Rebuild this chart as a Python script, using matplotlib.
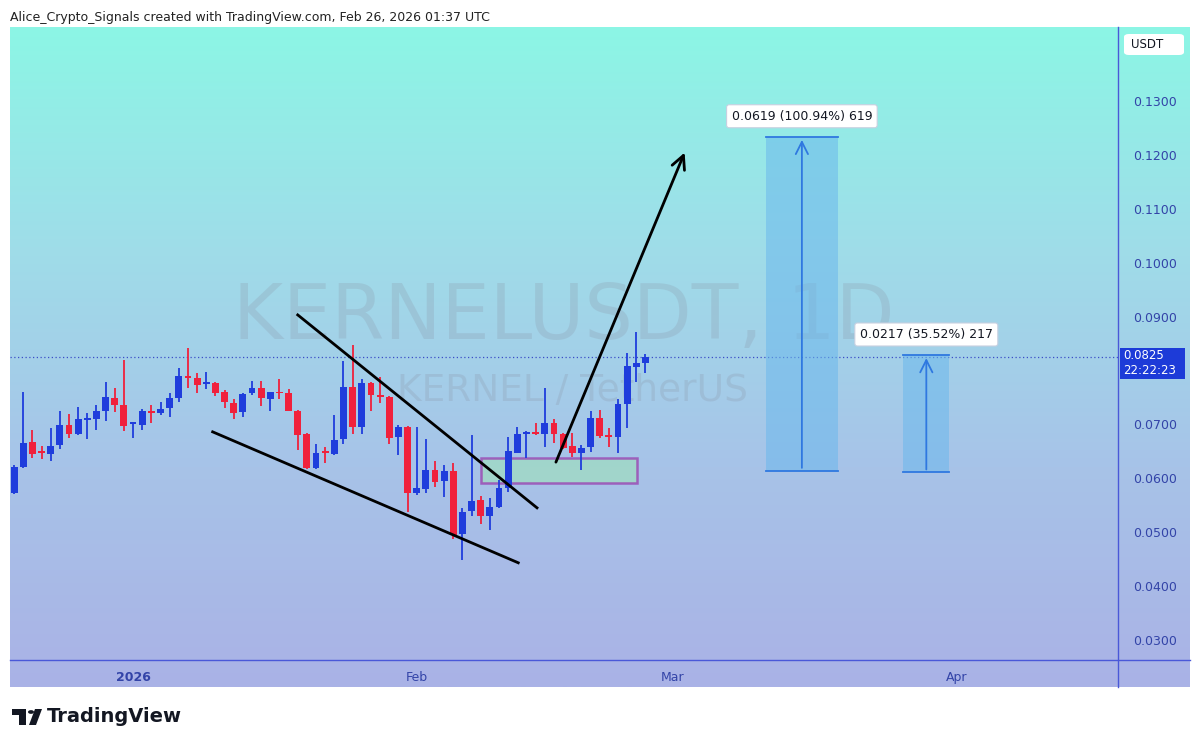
import numpy as np
import matplotlib.pyplot as plt
from matplotlib.patches import Rectangle, FancyBboxPatch, Polygon, Circle
from matplotlib.lines import Line2D
from matplotlib.colors import LinearSegmentedColormap

# KERNELUSDT daily candles, 19 Dec 2025 .. 26 Feb 2026
opens = [0.0573, 0.0621, 0.0667, 0.0649, 0.0645, 0.0662, 0.0699, 0.0682, 0.0708, 0.0710,
         0.0725, 0.0749, 0.0736, 0.0701, 0.0699, 0.0725, 0.0721, 0.0730, 0.0749, 0.0790,
         0.0786, 0.0775, 0.0777, 0.0760, 0.0740, 0.0723, 0.0758, 0.0768, 0.0747, 0.0760,
         0.0758, 0.0725, 0.0682, 0.0619, 0.0649, 0.0645, 0.0673, 0.0769, 0.0695, 0.0777,
         0.0755, 0.0751, 0.0677, 0.0695, 0.0573, 0.0580, 0.0615, 0.0595, 0.0614, 0.0497,
         0.0539, 0.0560, 0.0530, 0.0547, 0.0582, 0.0647, 0.0682, 0.0684, 0.0682, 0.0703,
         0.0682, 0.0660, 0.0647, 0.0658, 0.0712, 0.0680, 0.0677, 0.0738, 0.0806, 0.0814]
highs = [0.0625, 0.0760, 0.0690, 0.0660, 0.0693, 0.0725, 0.0719, 0.0732, 0.0721, 0.0736,
         0.0779, 0.0768, 0.0819, 0.0704, 0.0729, 0.0736, 0.0742, 0.0758, 0.0805, 0.0842,
         0.0795, 0.0797, 0.0779, 0.0764, 0.0747, 0.0758, 0.0781, 0.0781, 0.0760, 0.0784,
         0.0766, 0.0727, 0.0684, 0.0664, 0.0658, 0.0717, 0.0818, 0.0847, 0.0784, 0.0779,
         0.0788, 0.0753, 0.0699, 0.0697, 0.0695, 0.0673, 0.0632, 0.0625, 0.0628, 0.0545,
         0.0680, 0.0567, 0.0563, 0.0597, 0.0677, 0.0695, 0.0688, 0.0703, 0.0768, 0.0710,
         0.0684, 0.0684, 0.0662, 0.0725, 0.0727, 0.0693, 0.0747, 0.0832, 0.0871, 0.0831]
lows = [0.0571, 0.0619, 0.0638, 0.0636, 0.0632, 0.0654, 0.0675, 0.0680, 0.0673, 0.0690,
        0.0706, 0.0723, 0.0688, 0.0675, 0.0690, 0.0703, 0.0717, 0.0714, 0.0742, 0.0768,
        0.0758, 0.0766, 0.0753, 0.0730, 0.0710, 0.0714, 0.0755, 0.0734, 0.0725, 0.0747,
        0.0724, 0.0652, 0.0617, 0.0617, 0.0628, 0.0643, 0.0664, 0.0682, 0.0682, 0.0725,
        0.0740, 0.0664, 0.0643, 0.0537, 0.0569, 0.0573, 0.0584, 0.0565, 0.0487, 0.0448,
        0.0530, 0.0515, 0.0504, 0.0545, 0.0575, 0.0647, 0.0638, 0.0680, 0.0658, 0.0665,
        0.0654, 0.0640, 0.0615, 0.0649, 0.0675, 0.0658, 0.0647, 0.0693, 0.0779, 0.0795]
closes = [0.0621, 0.0665, 0.0645, 0.0647, 0.0660, 0.0699, 0.0682, 0.0710, 0.0712, 0.0725,
          0.0751, 0.0736, 0.0697, 0.0703, 0.0725, 0.0721, 0.0729, 0.0749, 0.0790, 0.0786,
          0.0773, 0.0777, 0.0758, 0.0742, 0.0721, 0.0756, 0.0768, 0.0749, 0.0760, 0.0758,
          0.0725, 0.0680, 0.0619, 0.0647, 0.0647, 0.0671, 0.0769, 0.0695, 0.0777, 0.0755,
          0.0751, 0.0675, 0.0695, 0.0573, 0.0582, 0.0615, 0.0593, 0.0614, 0.0495, 0.0537,
          0.0558, 0.0530, 0.0547, 0.0582, 0.0651, 0.0682, 0.0684, 0.0682, 0.0703, 0.0682,
          0.0656, 0.0647, 0.0656, 0.0712, 0.0678, 0.0677, 0.0738, 0.0808, 0.0814, 0.0825]
days = np.arange(-13, -13 + len(opens))  # days from 1 Jan 2026

last_price = 0.0825
# 0.0800 sits under the last-price tag, so it is not shown
price_ticks = [0.03, 0.04, 0.05, 0.06, 0.07, 0.09, 0.10, 0.11, 0.12, 0.13]
date_ticks = [0, 31, 59, 90]
date_labels = ["2026", "Feb", "Mar", "Apr"]

# drawings (day, price)
wedge_upper = ([18.0, 44.15], [0.0903, 0.0545])
wedge_lower = ([8.7, 42.1], [0.0686, 0.0443])
big_arrow = ((46.1, 0.0625), (60.4, 0.1209))
zone = (38.0, 55.1, 0.0591, 0.0638)
targets = [
    (69.2, 77.0, 0.0614, 0.1233, "0.0619 (100.94%) 619"),
    (84.2, 89.2, 0.0611, 0.0828, "0.0217 (35.52%) 217"),
]

W, H = 1200, 747
fig = plt.figure(figsize=(12, 7.47), dpi=100)
fig.patch.set_facecolor("white")

# gradient background
bg = fig.add_axes([10 / W, 1 - 687 / H, 1180 / W, 660 / H])
cmap = LinearSegmentedColormap.from_list("bg", ["#8cf6e5", "#9fdde9", "#a7c3e8", "#aab2e6"])
bg.imshow(np.linspace(0, 1, 256).reshape(-1, 1), aspect="auto", cmap=cmap,
          extent=[0, 1, 0, 1])
bg.set_axis_off()

ax = fig.add_axes([10 / W, 1 - 660 / H, 1108 / W, 633 / H])
ax.patch.set_alpha(0)
ax.set_xlim(-13.45, 107.65)
ax.set_ylim(0.02626, 0.14373)

blue = "#1f3ddc"
red = "#f0213c"
cols = [blue if c >= o else red for o, c in zip(opens, closes)]
ax.vlines(days, lows, highs, colors=cols, lw=1.3, zorder=3)
bottoms = [min(o, c) for o, c in zip(opens, closes)]
heights = [max(abs(c - o), 0.00028) for o, c in zip(opens, closes)]
ax.bar(days, heights, bottom=bottoms, width=0.75, color=cols, zorder=4)

# last price dotted line
ax.axhline(last_price, color="#3a4fc8", lw=0.9, ls=(0, (1, 2)), zorder=2)

# watermark
ax.text(0.4995, 0.54, "KERNELUSDT, 1D", transform=ax.transAxes, ha="center", va="center",
        fontsize=55, color="#8a95a8", alpha=0.25, zorder=1)
ax.text(0.508, 0.425, "KERNEL / TetherUS", transform=ax.transAxes, ha="center", va="center",
        fontsize=27, color="#8a95a8", alpha=0.25, zorder=1)

# falling wedge
ax.plot(*wedge_upper, color="black", lw=2, zorder=5)
ax.plot(*wedge_lower, color="black", lw=2, zorder=5)

# demand zone
x0, x1, y0, y1 = zone
ax.add_patch(Rectangle((x0, y0), x1 - x0, y1 - y0, facecolor="#9fdcc2", alpha=0.75,
                       edgecolor="#9a3cb0", lw=1.8, zorder=2))

# projection arrow
ax.annotate("", xy=big_arrow[1], xytext=big_arrow[0],
            arrowprops=dict(arrowstyle="->", color="black", lw=2, mutation_scale=24),
            zorder=6)

# targets
for tx0, tx1, ty0, ty1, label in targets:
    ax.add_patch(Rectangle((tx0, ty0), tx1 - tx0, ty1 - ty0, facecolor="#6bb8ec",
                           alpha=0.55, edgecolor="none", zorder=2))
    ax.plot([tx0, tx1], [ty0, ty0], color="#2f78e0", lw=1.3, zorder=3)
    ax.plot([tx0, tx1], [ty1, ty1], color="#2f78e0", lw=1.3, zorder=3)
    xc = (tx0 + tx1) / 2
    ax.annotate("", xy=(xc, ty1), xytext=(xc, ty0),
                arrowprops=dict(arrowstyle="->", color="#2f78e0", lw=1.3, mutation_scale=22),
                zorder=4)
    ax.annotate(label, xy=(xc, ty1), xytext=(0, 15), textcoords="offset points",
                ha="center", va="center", fontsize=9, color="#131722", zorder=7,
                bbox=dict(boxstyle="round,pad=0.4,rounding_size=0.2", fc="white",
                          ec="#c8d0e0", lw=0.8))

# axes
for s in ax.spines.values():
    s.set_visible(False)
ax.yaxis.tick_right()
ax.set_yticks(price_ticks)
ax.set_yticklabels([f"{v:.4f}" for v in price_ticks])
ax.tick_params(axis="y", length=0, pad=11, labelsize=9, labelcolor="#3344a8")
ax.set_xticks(date_ticks)
ax.set_xticklabels(date_labels)
ax.tick_params(axis="x", length=0, pad=8, labelsize=9, labelcolor="#3344a8")
ax.get_xticklabels()[0].set_fontweight("bold")

fig.add_artist(Line2D([10 / W, 1190 / W], [1 - 660 / H, 1 - 660 / H],
                      color="#4a58d8", lw=1))
fig.add_artist(Line2D([1118 / W, 1118 / W], [1 - 27 / H, 1 - 687 / H],
                      color="#4a58d8", lw=1))

# last price tag
fig.add_artist(Rectangle((1120 / W, 1 - 379 / H), 65 / W, 31 / H, facecolor="#1d3bd8",
                         edgecolor="none"))
fig.text(1123 / W, 1 - 356 / H, "0.0825", fontsize=8.5, color="white", va="center")
fig.text(1123 / W, 1 - 371 / H, "22:22:23", fontsize=8.5, color="white", va="center")

# currency box
fig.add_artist(FancyBboxPatch((1124 / W, 1 - 55 / H), 60 / W, 21 / H,
                              boxstyle="round,pad=0,rounding_size=0.004",
                              facecolor="white", edgecolor="none"))
fig.text(1147 / W, 1 - 44.5 / H, "USDT", fontsize=8.5, color="#131722",
         ha="center", va="center")

# header
fig.text(10 / W, 1 - 17 / H, "Alice_Crypto_Signals created with TradingView.com, Feb 26, 2026 01:37 UTC",
         fontsize=9, color="#222222", va="center")

# TradingView logo
lc = "#131722"
fig.add_artist(Rectangle((12 / W, 1 - 715 / H), 14 / W, 6 / H, facecolor=lc, edgecolor="none"))
fig.add_artist(Rectangle((19 / W, 1 - 725 / H), 7 / W, 16 / H, facecolor=lc, edgecolor="none"))
fig.add_artist(Circle((31 / W, 1 - 712 / H), 3 / W, facecolor=lc, edgecolor="none"))
fig.add_artist(Polygon([(35 / W, 1 - 709 / H), (42 / W, 1 - 709 / H),
                        (36 / W, 1 - 725 / H), (29 / W, 1 - 725 / H)],
                       facecolor=lc, edgecolor="none"))
fig.text(47 / W, 1 - 717 / H, "TradingView", fontsize=14, fontweight="bold",
         color=lc, va="center")

fig.savefig("out.png", dpi=100)
